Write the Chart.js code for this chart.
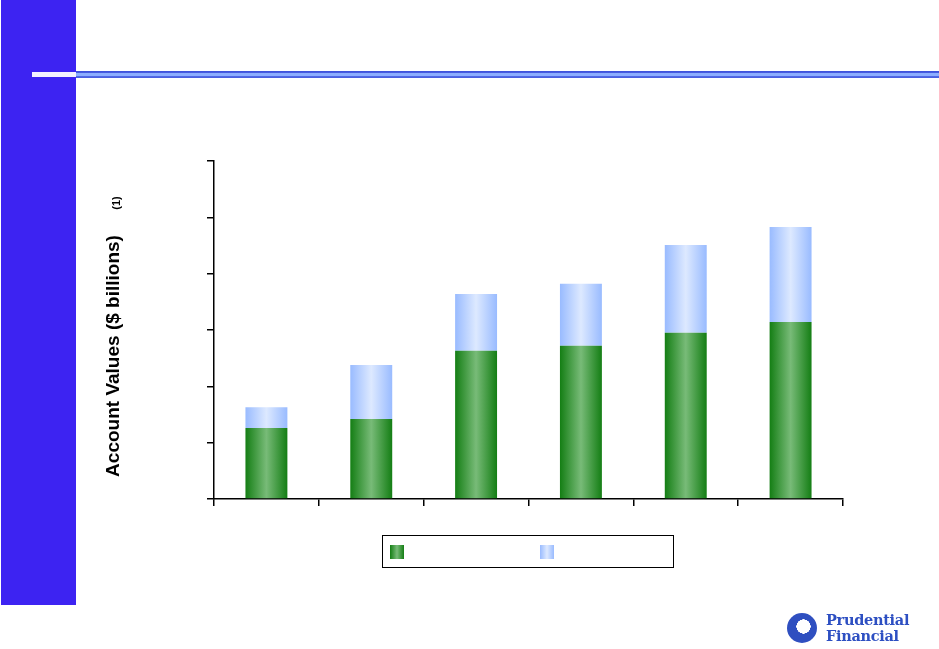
<!DOCTYPE html>
<html>
<head>
<meta charset="utf-8">
<script src="https://cdn.jsdelivr.net/npm/chart.js@4/dist/chart.umd.min.js"></script>
<style>
  html, body { margin: 0; padding: 0; background: #fff; }
  #wrap { position: relative; width: 939px; height: 649px; overflow: hidden; }
  #panel { position: absolute; left: 1px; top: 0; width: 75px; height: 605px; background: #3d23f2; }
  #lineW { position: absolute; left: 32px; top: 72px; width: 44px; height: 5px; background: #f4f2ff; }
  #lineB { position: absolute; left: 76px; top: 71px; width: 863px; height: 7px;
           background: linear-gradient(to bottom, #3e52dc 0%, #3e52dc 20%, #8cadff 35%, #8cadff 65%, #4a60e2 80%, #4a60e2 100%); }
  #cv { position: absolute; left: 0; top: 0; }
  #ytitle { position: absolute; left: 113px; top: 356px; transform: translate(-50%, -50%) rotate(-90deg);
            font-family: "Liberation Sans", Arial, sans-serif; font-weight: bold; font-size: 19px; color: #000; white-space: nowrap; }
  #sup { position: absolute; left: 116px; top: 203px; transform: translate(-50%, -50%) rotate(-90deg);
         font-family: "Liberation Sans", Arial, sans-serif; font-weight: bold; font-size: 11px; color: #000; white-space: nowrap; }
  #legend { position: absolute; left: 382px; top: 535px; width: 290px; height: 31px; border: 1px solid #000; background: #fff; }
  .sw { position: absolute; top: 9px; width: 14px; height: 14px; }
  #sw1 { left: 7px; background: linear-gradient(to right, #147e14, #78bb78 50%, #147e14); }
  #sw2 { left: 157px; background: linear-gradient(to right, #99bbff, #dde9ff 50%, #99bbff); }
  #logo { position: absolute; left: 787px; top: 612px; width: 130px; height: 36px; }
  #logoIcon { position: absolute; left: 0; top: 1px; width: 30px; height: 30px; border-radius: 50%;
              background: radial-gradient(circle at 55% 45%, #fff 0 30%, #2f4fc0 31% 100%); }
  #logoText { position: absolute; left: 39px; top: 0; font-family: "DejaVu Serif", "Liberation Serif", serif; font-weight: bold;
              font-size: 14.5px; line-height: 16px; color: #2d4fc2; letter-spacing: -0.3px; }
</style>
</head>
<body>
<div id="wrap">
  <div id="panel"></div>
  <div id="lineW"></div>
  <div id="lineB"></div>
  <canvas id="cv" width="939" height="649"></canvas>
  <div id="ytitle">Account Values ($ billions)</div>
  <div id="sup">(1)</div>
  <div id="legend"><div class="sw" id="sw1"></div><div class="sw" id="sw2"></div></div>
  <div id="logo"><div id="logoIcon"></div><div id="logoText">Prudential<br>Financial</div></div>
</div>
<script>
// Data (units of axis: 0-60, 6 gridline steps)
const categories = ["1", "2", "3", "4", "5", "6"];
const greenSeries = [12.6, 14.2, 26.3, 27.2, 29.5, 31.4];
const blueSeries = [3.7, 9.6, 10.1, 11.0, 15.6, 16.9];
const yTicks = [0, 10, 20, 30, 40, 50, 60];

const BAR_PCT = 0.4;

function barGradient(edge, mid) {
  return function (ctx) {
    const chart = ctx.chart;
    if (!chart.chartArea || !chart.scales.x) return edge;
    const xs = chart.scales.x;
    const cx = xs.getPixelForValue(ctx.dataIndex);
    const w = (xs.width / categories.length) * BAR_PCT;
    const g = chart.ctx.createLinearGradient(cx - w / 2, 0, cx + w / 2, 0);
    g.addColorStop(0, edge);
    g.addColorStop(0.5, mid);
    g.addColorStop(1, edge);
    return g;
  };
}

new Chart(document.getElementById('cv'), {
  type: 'bar',
  data: {
    labels: categories,
    datasets: [
      { label: '', data: greenSeries, backgroundColor: barGradient('#147e14', '#78bb78'), borderWidth: 0 },
      { label: '', data: blueSeries, backgroundColor: barGradient('#99bbff', '#dde9ff'), borderWidth: 0 }
    ]
  },
  options: {
    responsive: false,
    animation: false,
    devicePixelRatio: 1,
    layout: { padding: { left: 207, right: 96, top: 161, bottom: 143 } },
    datasets: { bar: { barPercentage: BAR_PCT, categoryPercentage: 1.0 } },
    plugins: { legend: { display: false }, tooltip: { enabled: false } },
    scales: {
      x: {
        stacked: true,
        offset: true,
        grid: { display: true, drawOnChartArea: false, drawTicks: true, tickLength: 7, color: '#000', lineWidth: 1.5, offset: true },
        border: { display: true, color: '#000', width: 1.5 },
        ticks: { display: false }
      },
      y: {
        stacked: true,
        min: yTicks[0],
        max: yTicks[yTicks.length - 1],
        afterBuildTicks: (s) => { s.ticks = yTicks.map(v => ({ value: v })); },
        grid: { display: true, drawOnChartArea: false, drawTicks: true, tickLength: 7, color: '#000', lineWidth: 1.5 },
        border: { display: true, color: '#000', width: 1.5 },
        ticks: { display: false }
      }
    }
  }
});
</script>
</body>
</html>
